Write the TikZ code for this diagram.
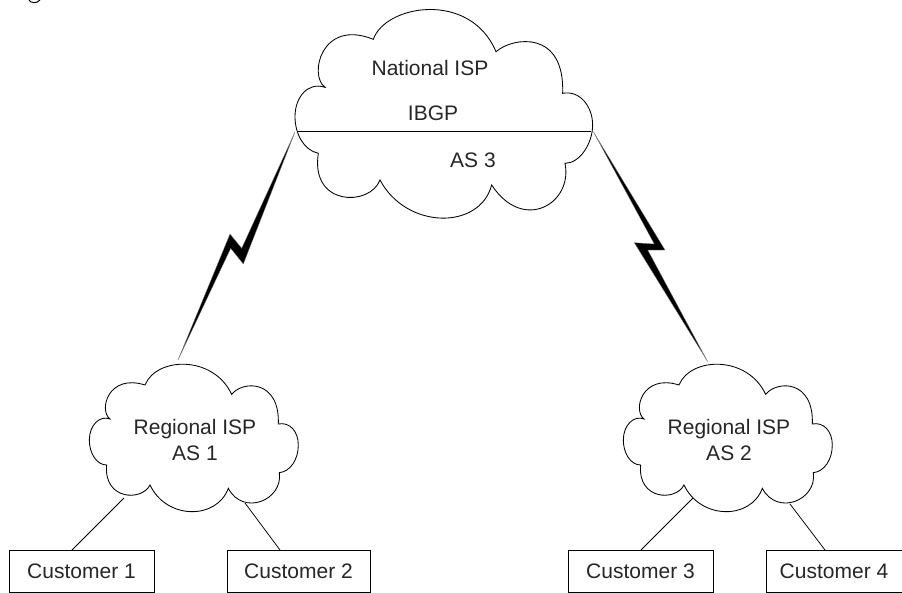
\documentclass[tikz,border=0pt]{standalone}
\usepackage{fontspec}
\setmainfont{Liberation Sans}
\tikzset{
  every picture/.style={x=1pt,y=-1pt},
  lbl/.style={inner sep=0pt,text=black!85,font=\fontsize{21}{25.5}\selectfont,align=center},
  custbox/.style={draw,line width=1pt,minimum height=42pt,inner sep=0pt,font=\fontsize{21}{25}\selectfont,text=black!85},
  cloudline/.style={draw,line width=.85pt},
  linkline/.style={line width=.75pt},
  bolt/.style={fill=black,draw=black!50,line width=.3pt},
}
\newcommand{\smallcloud}[2]{%
 \begin{scope}[shift={(#1,#2)},x=.3333pt,y=-.3333pt]
  \draw[cloudline] (330,207) .. controls (295,180) and (325,70) .. (435,105)
   .. controls (470,20) and (640,15) .. (695,133)
   .. controls (730,90) and (840,90) .. (835,222)
   .. controls (870,215) and (895,245) .. (895,285)
   .. controls (895,330) and (870,365) .. (838,368)
   .. controls (850,450) and (730,500) .. (685,415)
   .. controls (650,510) and (500,510) .. (450,405)
   .. controls (425,455) and (310,450) .. (320,345)
   .. controls (290,345) and (268,310) .. (268,270)
   .. controls (268,225) and (300,195) .. (330,207) -- cycle;
 \end{scope}}
\begin{document}
\begin{tikzpicture}
\useasboundingbox (0,0) rectangle (902,592);
% top-edge remnant
\draw[line width=1pt] (29,0) .. controls (30,3) and (37,4) .. (40,0);
% national cloud
\begin{scope}[shift={(280,0)},x=.3333pt,y=-.3333pt]
 \draw[cloudline] (135,262) .. controls (85,225) and (125,55) .. (280,118)
  .. controls (315,15) and (570,-30) .. (648,155)
  .. controls (700,110) and (855,90) .. (848,280)
  .. controls (900,270) and (938,320) .. (938,375)
  .. controls (938,430) and (900,490) .. (855,490)
  .. controls (880,610) and (730,700) .. (635,555)
  .. controls (600,690) and (380,690) .. (300,540)
  .. controls (270,620) and (90,620) .. (115,460)
  .. controls (70,450) and (45,400) .. (45,350)
  .. controls (45,290) and (85,245) .. (135,262) -- cycle;
\end{scope}
\smallcloud{0}{350}
\smallcloud{534}{350}
% named anchors on the clouds
\coordinate (natL) at (297,131);
\coordinate (natR) at (591,131);
\coordinate (linkL) at (295,132);
\coordinate (linkR) at (593.3,131.7);
\coordinate (reg1T) at (178,360);
\coordinate (reg2T) at (707.7,361.7);
\coordinate (reg1BL) at (124,498);
\coordinate (reg1BR) at (245,503);
\coordinate (reg2BL) at (693,498);
\coordinate (reg2BR) at (790,504);
% texts
\node[lbl] (nat) at (430,68) {National ISP};
\node[lbl] (ibgp) at (433,113) {IBGP};
\node[lbl] (as3) at (473,160) {AS 3};
\node[lbl] (reg1) at (195,440) {Regional ISP\\AS 1};
\node[lbl] (reg2) at (729,440) {Regional ISP\\AS 2};
% customers
\node[custbox,minimum width=145pt] (c1) at (81.5,571) {Customer 1};
\node[custbox,minimum width=143pt] (c2) at (298.5,571) {Customer 2};
\node[custbox,minimum width=145pt] (c3) at (640.5,571) {Customer 3};
\node[custbox,minimum width=140pt] (c4) at (836,571) {\hspace*{-4pt}Customer 4};
\coordinate (c1T) at (72,550);
\coordinate (c2T) at (280,550);
\coordinate (c3T) at (641,550);
\coordinate (c4T) at (825,550);
% links
\draw[linkline] (natL) -- (natR);
\draw[linkline] (reg1BL) -- (c1T);
\draw[linkline] (reg1BR) -- (c2T);
\draw[linkline] (reg2BL) -- (c3T);
\draw[linkline] (reg2BR) -- (c4T);
% lightning
\filldraw[bolt] (linkL) -- (241.7,248.3) -- (230,234) -- (reg1T) -- (230.7,248.3) -- (243.3,264) -- cycle;
\filldraw[bolt] (linkR) -- (665,250) -- (647.7,250) -- (reg2T) -- (634.3,242.7) -- (654.3,244) -- cycle;
\end{tikzpicture}
\end{document}
